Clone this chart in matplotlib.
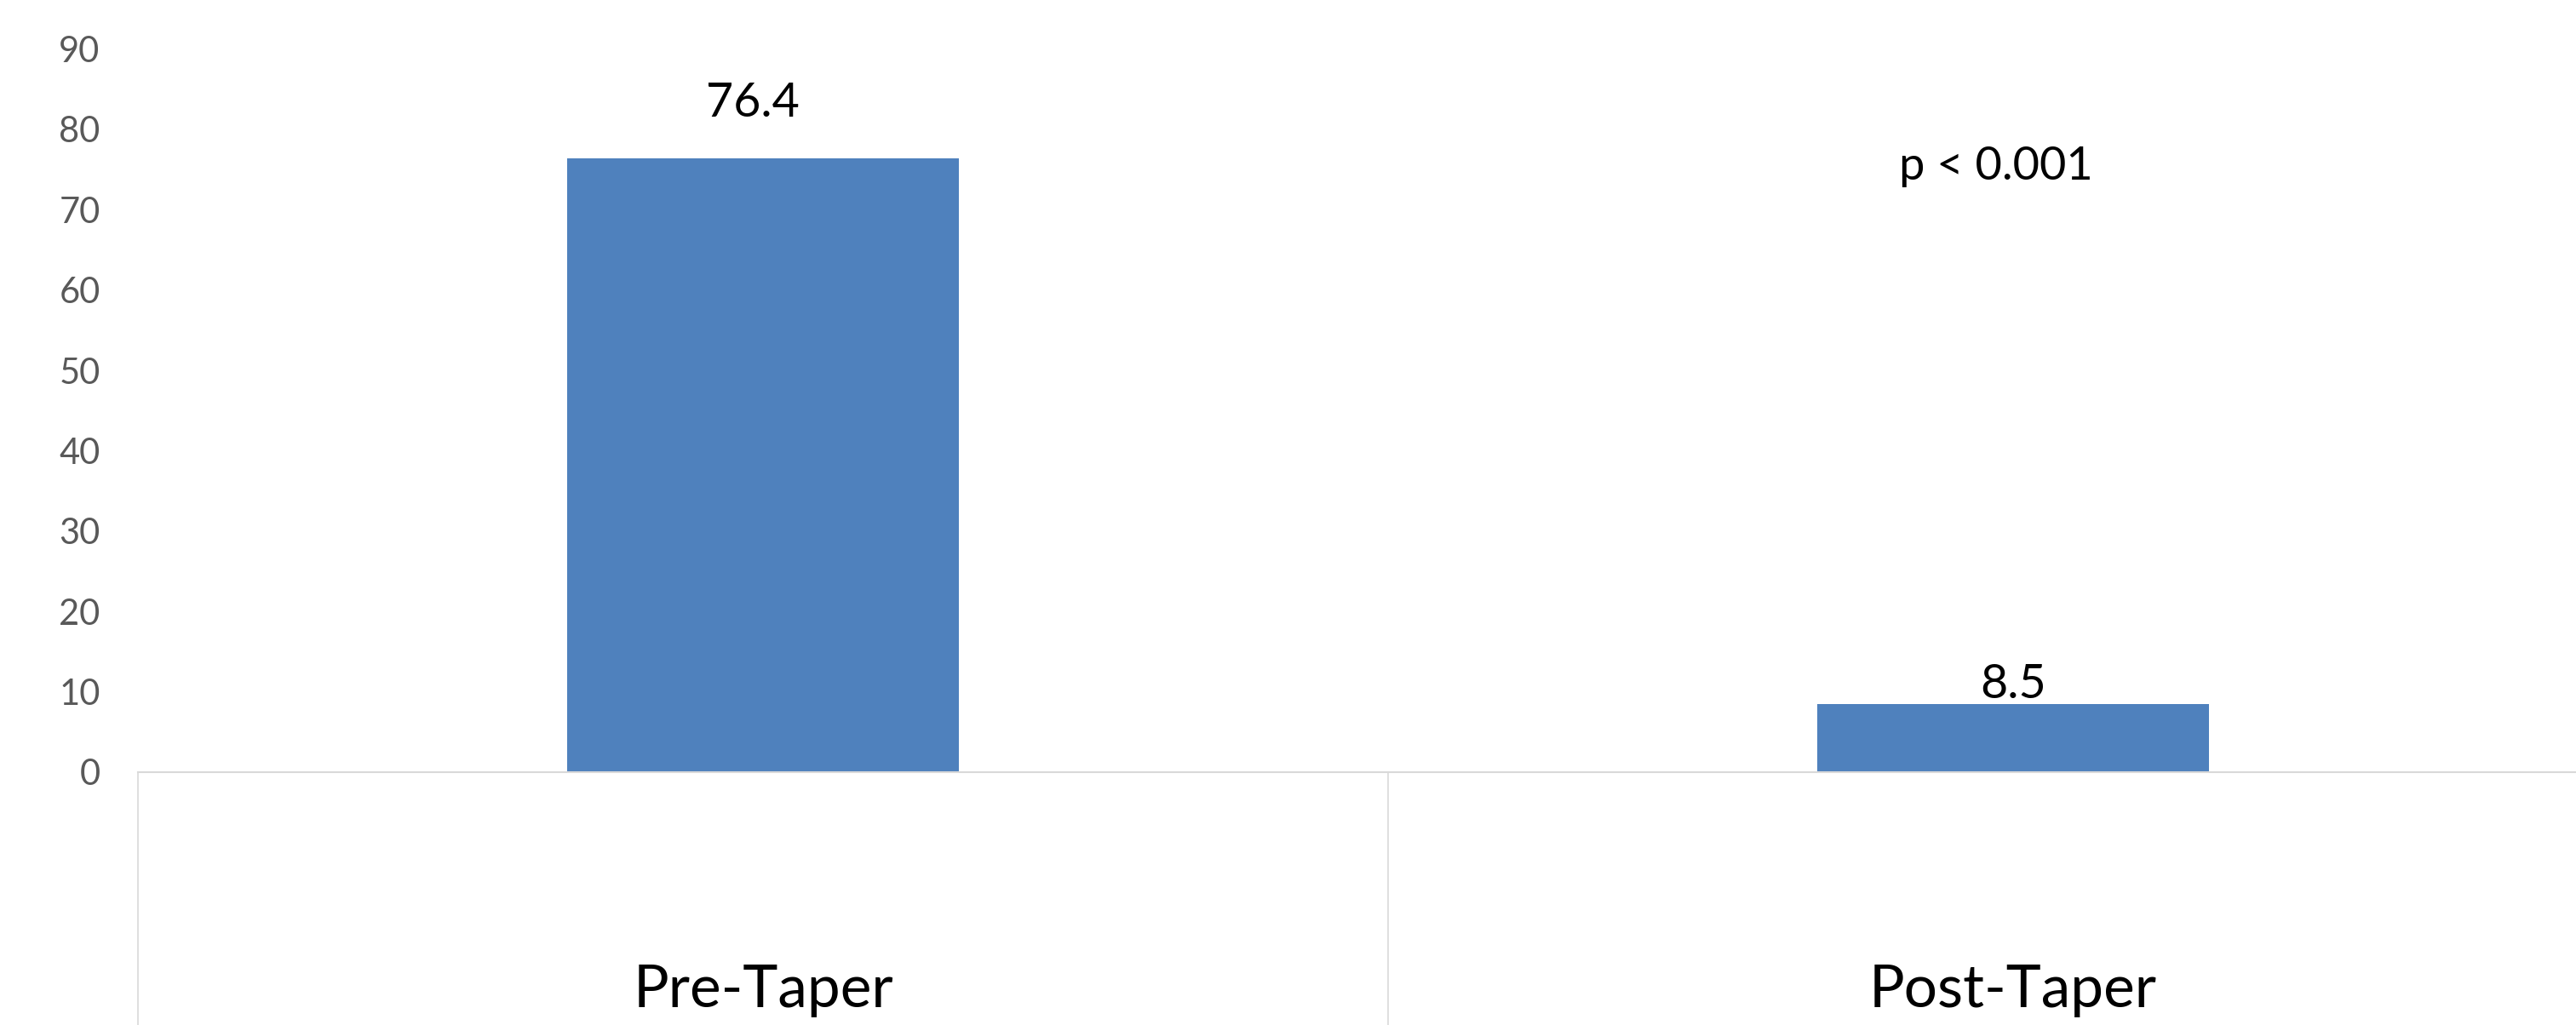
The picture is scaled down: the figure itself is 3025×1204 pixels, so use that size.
import matplotlib
matplotlib.use("Agg")
import matplotlib.pyplot as plt
import matplotlib.transforms as mtransforms

plt.rcParams['font.family'] = ['Lato', 'DejaVu Sans']

categories = ['Pre-Taper', 'Post-Taper']
values = [76.4, 8.5]
value_labels = ['76.4', '8.5']
label_offsets = [5.2, 0.7]   # how far above each bar its label sits
label_shift = [-0.008, 0.0]  # small horizontal nudge of each label
yticks = [0, 10, 20, 30, 40, 50, 60, 70, 80, 90]
p_text = 'p < 0.001'

bar_color = '#4F81BD'
line_color = '#D9D9D9'

fig = plt.figure(figsize=(30.25, 12.04), dpi=100)
# plot area runs off the right edge, as in the source
ax = fig.add_axes([162/3025, 297/1204, 2936/3025, 849.5/1204])

x = list(range(len(categories)))
ax.bar(x, values, width=0.313, color=bar_color, zorder=2)

ax.set_xlim(-0.5, len(categories) - 0.5)
ax.set_ylim(0, 90)
ax.set_yticks(yticks)
ax.set_yticklabels([str(t) for t in yticks], fontsize=30, color='#595959')
ax.tick_params(axis='y', length=0, pad=32)
ax.set_xticks([])

for s in ['left', 'right', 'top']:
    ax.spines[s].set_visible(False)
ax.spines['bottom'].set_color(line_color)
ax.spines['bottom'].set_linewidth(1.5)

for i, v in enumerate(values):
    ax.text(i + label_shift[i], v + label_offsets[i], value_labels[i],
            ha='center', va='baseline', fontsize=40, color='black')

ax.text(0.986, 73.7, p_text, ha='center', va='baseline', fontsize=39,
        color='black')

# category band under the axis: dividers and labels
trans = mtransforms.blended_transform_factory(ax.transData, ax.transAxes)
for b in [-0.5 + k for k in range(len(categories) + 1)]:
    ax.plot([b, b], [0, -0.4], transform=trans, color=line_color, lw=1.2,
            clip_on=False)
for i, c in enumerate(categories):
    ax.text(i, -0.325, c, transform=trans, ha='center', va='baseline',
            fontsize=50, color='black')

fig.savefig('out.png', dpi=100)
